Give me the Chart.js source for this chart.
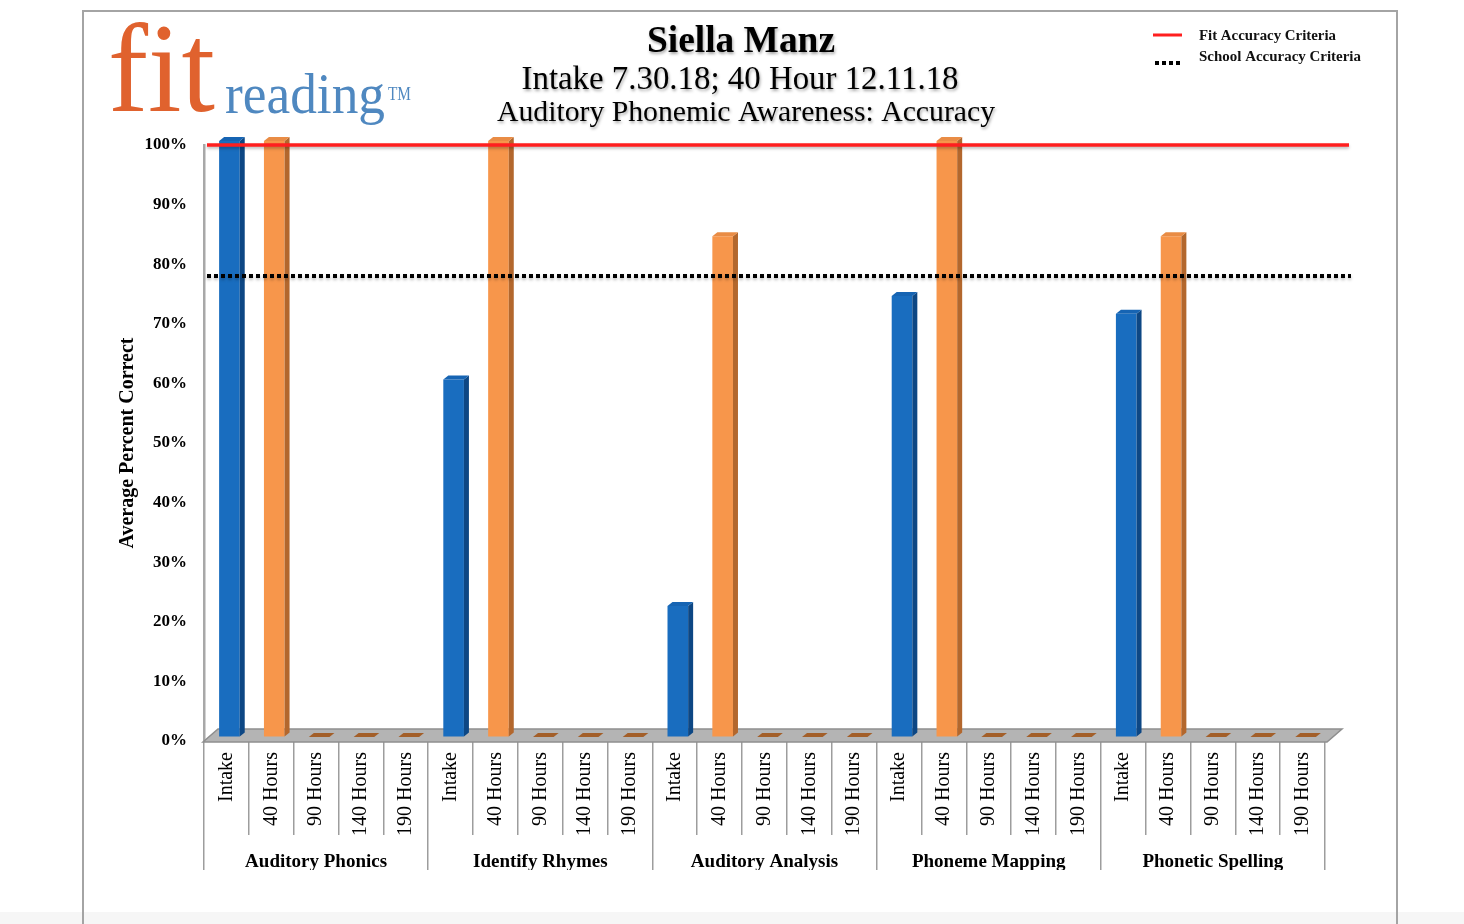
<!DOCTYPE html>
<html>
<head>
<meta charset="utf-8">
<script src="https://cdn.jsdelivr.net/npm/chart.js@4.4.0/dist/chart.umd.min.js"></script>
<style>
  html, body { margin: 0; padding: 0; background: #fff; }
  #wrap { width: 1464px; height: 924px; }
</style>
</head>
<body>
<div id="wrap"><canvas id="myChart" width="1464" height="924"></canvas></div>
<script>
// values
const groups = ["Auditory Phonics", "Identify Rhymes", "Auditory Analysis", "Phoneme Mapping", "Phonetic Spelling"];
const stages = ["Intake", "40 Hours", "90 Hours", "140 Hours", "190 Hours"];
const intake = [100, 60, 22, 74, 71];
const hours40 = [100, 100, 84, 100, 84];
const hours90 = [0, 0, 0, 0, 0];
const hours140 = [0, 0, 0, 0, 0];
const hours190 = [0, 0, 0, 0, 0];
const yTicks = [0, 10, 20, 30, 40, 50, 60, 70, 80, 90, 100];
const fitCriteria = 100;
const schoolCriteria = 78;

const SERIF = "'Liberation Serif', 'Times New Roman', 'DejaVu Serif', serif";

const frontColors = ["#196dbf", "#f7964b", "#a05f2a", "#a05f2a", "#a05f2a"];
const sideColors = ["#0d4784", "#b3672d", "#7a451c", "#7a451c", "#7a451c"];
const capColors = ["#1664b3", "#e98c45", "#a35f29", "#a35f29", "#a35f29"];

const series = [intake, hours40, hours90, hours140, hours190];
const labels = [];
const values = [];
const stageIndex = [];
groups.forEach((g, gi) => {
  stages.forEach((s, si) => {
    labels.push(s);
    values.push(series[si][gi]);
    stageIndex.push(si);
  });
});

const DX = 5, DY = 4;

function drawFitted(ctx, text, x, baseline, width, font, color, align) {
  ctx.font = font;
  const w = ctx.measureText(text).width;
  ctx.save();
  ctx.translate(x, baseline);
  ctx.scale(width / w, 1);
  ctx.fillStyle = color;
  ctx.textAlign = align || "center";
  ctx.textBaseline = "alphabetic";
  ctx.fillText(text, 0, 0);
  ctx.restore();
}

const pagePlugin = {
  id: "page",
  beforeDraw(chart) {
    const ctx = chart.ctx;
    ctx.save();
    ctx.fillStyle = "#ffffff";
    ctx.fillRect(0, 0, chart.width, chart.height);
    ctx.fillStyle = "#f6f6f6";
    ctx.fillRect(0, 912, chart.width, 12);
    ctx.strokeStyle = "#a4a4a4";
    ctx.lineWidth = 2;
    ctx.beginPath();
    ctx.moveTo(83, 924); ctx.lineTo(83, 11); ctx.lineTo(1397, 11); ctx.lineTo(1397, 924);
    ctx.stroke();
    ctx.restore();
  },
  afterDraw(chart) {
    const ctx = chart.ctx;
    // logo
    drawFitted(ctx, "fit", 108, 111, 107, "128px " + SERIF, "#e0622e", "left");
    drawFitted(ctx, "reading", 225, 113, 160, "58px " + SERIF, "#4f88c0", "left");
    drawFitted(ctx, "TM", 388, 100, 23, "19px " + SERIF, "#4f88c0", "left");
    // title block
    ctx.save();
    ctx.shadowColor = "rgba(0,0,0,0.35)";
    ctx.shadowBlur = 3;
    ctx.shadowOffsetX = 1;
    ctx.shadowOffsetY = 2;
    drawFitted(ctx, "Siella Manz", 741, 52, 188, "bold 37px " + SERIF, "#000");
    drawFitted(ctx, "Intake 7.30.18; 40 Hour 12.11.18", 740, 89, 437, "33px " + SERIF, "#000");
    drawFitted(ctx, "Auditory Phonemic Awareness: Accuracy", 746, 121, 498, "30px " + SERIF, "#000");
    ctx.restore();
    // legend
    ctx.save();
    ctx.strokeStyle = "#ff1f1f";
    ctx.lineWidth = 3;
    ctx.beginPath(); ctx.moveTo(1153, 35); ctx.lineTo(1182, 35); ctx.stroke();
    ctx.strokeStyle = "#000";
    ctx.lineWidth = 4;
    ctx.setLineDash([4, 3]);
    ctx.beginPath(); ctx.moveTo(1155, 63); ctx.lineTo(1183, 63); ctx.stroke();
    ctx.restore();
    drawFitted(ctx, "Fit Accuracy Criteria", 1199, 40, 137, "bold 14.5px " + SERIF, "#111", "left");
    drawFitted(ctx, "School Accuracy Criteria", 1199, 61, 162, "bold 14.5px " + SERIF, "#111", "left");
  }
};

const bar3dPlugin = {
  id: "bar3d",
  beforeDatasetsDraw(chart) {
    const {ctx, chartArea: a} = chart;
    ctx.save();
    ctx.fillStyle = "#b4b4b4";
    ctx.strokeStyle = "#8e8e8e";
    ctx.lineWidth = 1.5;
    ctx.beginPath();
    ctx.moveTo(a.left - 1, a.bottom + 1);
    ctx.lineTo(a.right + 2, a.bottom + 1);
    ctx.lineTo(a.right + 17, a.bottom - 12);
    ctx.lineTo(a.left + 14, a.bottom - 12);
    ctx.closePath();
    ctx.fill();
    ctx.stroke();
    ctx.restore();
  },
  beforeDatasetDraw(chart) {
    chart.ctx.save();
    chart.ctx.translate(3, -4);
  },
  afterDatasetDraw(chart, args) {
    const ctx = chart.ctx;
    args.meta.data.forEach((el, i) => {
      const {x, y, base, width} = el.getProps(["x", "y", "base", "width"], true);
      const l = x - width / 2, r = x + width / 2;
      const si = stageIndex[i];
      if (base - y > 0.5) {
        ctx.fillStyle = sideColors[si];
        ctx.beginPath();
        ctx.moveTo(r, y); ctx.lineTo(r + DX, y - DY); ctx.lineTo(r + DX, base - DY); ctx.lineTo(r, base);
        ctx.closePath(); ctx.fill();
      }
      ctx.fillStyle = capColors[si];
      ctx.beginPath();
      ctx.moveTo(l, y); ctx.lineTo(l + DX, y - DY); ctx.lineTo(r + DX, y - DY); ctx.lineTo(r, y);
      ctx.closePath(); ctx.fill();
    });
    ctx.restore();
  },
  afterDatasetsDraw(chart) {
    const {ctx, chartArea: a, scales} = chart;
    const yFit = scales.y.getPixelForValue(fitCriteria);
    const ySchool = scales.y.getPixelForValue(schoolCriteria);
    ctx.save();
    ctx.shadowColor = "rgba(0,0,0,0.25)";
    ctx.shadowBlur = 3;
    ctx.shadowOffsetY = 2;
    ctx.strokeStyle = "#ff1f1f";
    ctx.lineWidth = 3.5;
    ctx.beginPath(); ctx.moveTo(a.left + 3, yFit); ctx.lineTo(a.right + 24, yFit); ctx.stroke();
    ctx.strokeStyle = "#000";
    ctx.lineWidth = 4;
    ctx.setLineDash([4, 3]);
    ctx.beginPath(); ctx.moveTo(a.left + 3, ySchool); ctx.lineTo(a.right + 26, ySchool); ctx.stroke();
    ctx.restore();
  }
};

new Chart("myChart", {
  type: "bar",
  data: {
    labels: labels,
    datasets: [{
      label: "Average Percent Correct",
      data: values,
      backgroundColor: stageIndex.map((i) => frontColors[i]),
      barPercentage: 0.46,
      categoryPercentage: 1,
      clip: false,
    }],
  },
  options: {
    responsive: false,
    animation: false,
    devicePixelRatio: 1,
    layout: { padding: { left: 98, right: 139, top: 145, bottom: 54 } },
    plugins: { legend: { display: false }, tooltip: { enabled: false } },
    scales: {
      x: {
        type: "category",
        position: "bottom",
        offset: true,
        weight: 0,
        border: { display: false },
        grid: { drawOnChartArea: false, offset: true, tickLength: 94, color: "#9d9d9d", lineWidth: 1.5 },
        ticks: {
          autoSkip: false, minRotation: 90, maxRotation: 90, padding: -83,
          color: "#000", font: { family: SERIF, size: 20 },
        },
        afterFit: (s) => { s.height = 94; },
      },
      x2: {
        type: "category",
        axis: "x",
        position: "bottom",
        labels: groups,
        offset: true,
        weight: 1,
        border: { display: false },
        grid: { drawOnChartArea: false, offset: true, tickLength: 35, color: "#9d9d9d", lineWidth: 1.5 },
        ticks: { padding: -19, color: "#000", font: { family: SERIF, size: 19, weight: "bold" } },
        afterFit: (s) => { s.height = 35; },
      },
      y: {
        min: 0,
        max: 100,
        border: { display: true, color: "#a8a8a8", width: 2.5 },
        grid: { drawOnChartArea: false, drawTicks: false },
        afterBuildTicks: (axis) => { axis.ticks = yTicks.map((v) => ({ value: v })); },
        ticks: {
          padding: 17,
          color: "#000",
          font: { family: SERIF, size: 17, weight: "bold" },
          callback: (v) => v + "%",
        },
        title: {
          display: true,
          text: "Average Percent Correct",
          color: "#000",
          font: { family: SERIF, size: 20, weight: "bold" },
          padding: { top: 18, bottom: 0 },
        },
        afterFit: (s) => { s.width = 106; },
      },
    },
  },
  plugins: [pagePlugin, bar3dPlugin],
});
</script>
</body>
</html>
